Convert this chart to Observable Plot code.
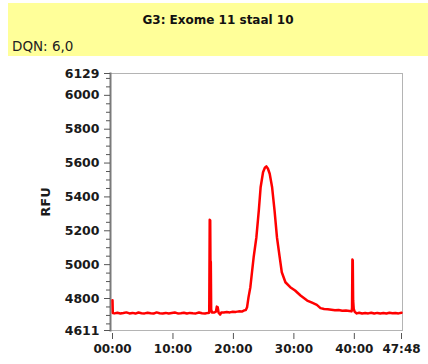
<!DOCTYPE html>
<html><head><meta charset="utf-8">
<script src="https://cdn.jsdelivr.net/npm/d3@7"></script>
<script src="https://cdn.jsdelivr.net/npm/@observablehq/plot@0.6"></script>
<style>
body{margin:0;background:#fff;font-family:"DejaVu Sans",sans-serif;width:428px;height:364px;overflow:hidden;position:relative;}
#hdr{position:absolute;left:8px;top:3px;width:420px;height:53px;background:#ffff99;}
#title{position:absolute;left:0;width:100%;top:10px;text-align:center;font-weight:bold;font-size:12px;color:#111;}
#sub{position:absolute;left:4px;top:35px;font-size:13.5px;color:#222;}
#chart{position:absolute;left:0;top:57px;}
</style>
</head><body>
<div id="hdr"><div id="title">G3: Exome 11 staal 10</div><div id="sub">DQN: 6,0</div></div>
<div id="chart"></div>
<script>
const time = [0,0.05,0.3,0.8,1.3,1.8,2.3,2.8,3.3,3.8,4.3,4.8,5.3,5.8,6.3,6.8,7.3,7.8,8.3,8.8,9.3,9.8,10.3,10.8,11.3,11.8,12.3,12.8,13.3,13.8,14.3,14.8,15.3,15.8,
16.0,16.08,16.16,16.2,16.26,16.32,16.45,16.8,17.1,17.25,17.4,17.55,17.8,18.0,18.4,18.9,19.4,19.9,20.4,20.9,21.4,21.8,22.05,
22.26,22.5,22.8,23.1,23.35,23.8,24.2,24.5,24.9,25.2,25.45,25.7,26.0,26.4,26.8,27.2,27.65,28.0,28.6,29.4,30.2,31.1,32.2,33.0,33.8,
34.4,35.0,35.6,36.2,36.8,37.4,38.0,38.6,39.2,39.55,39.62,39.68,39.74,39.8,39.9,40.05,40.4,40.8,41.3,41.8,42.3,42.8,43.3,43.8,44.3,44.8,45.3,45.8,46.3,46.8,47.3,47.8];
const rfu = [4790,4714,4712,4716,4711,4714,4718,4712,4715,4711,4717,4713,4712,4716,4713,4711,4718,4713,4712,4715,4711,4714,4717,4712,4713,4716,4711,4715,4713,4712,4717,4713,4711,4715,
4716,5265,5262,5025,5015,4735,4718,4717,4722,4752,4748,4716,4705,4718,4717,4720,4718,4722,4721,4724,4723,4730,4732,
4749,4808,4867,4965,5044,5162,5320,5457,5546,5572,5580,5568,5537,5457,5320,5162,5044,4955,4896,4867,4847,4818,4788,4775,4762,
4743,4738,4736,4733,4730,4732,4728,4729,4726,4724,4745,5030,5026,4790,4738,4722,4712,4716,4711,4714,4712,4716,4711,4715,4712,4714,4711,4716,4713,4715,4712,4716];
const yTicks = [4611,4800,5000,5200,5400,5600,5800,6000,6129];
const yMinor = [4650,4700,4750,4850,4900,4950,5050,5100,5150,5250,5300,5350,5450,5500,5550,5650,5700,5750,5850,5900,5950,6050,6100];
const xTicks = [0,10,20,30,40,47.8];
const xLabels = ["00:00","10:00","20:00","30:00","40:00","47:48"];

const data = time.map((t,i)=>({t, v: rfu[i]}));
const xLab = new Map(xTicks.map((t,i)=>[t,xLabels[i]]));

const chart = Plot.plot({
  width:428, height:307,
  marginTop:16, marginBottom:34, marginLeft:110, marginRight:26,
  x:{domain:[0,47.8], insetLeft:2, insetRight:1},
  y:{domain:[4611,6129]},
  style:{fontFamily:"DejaVu Sans", fontSize:"12px", fontWeight:"bold", color:"#1a1a1a", background:"transparent", overflow:"visible"},
  marks:[
    Plot.frame({stroke:"#b4b4b4"}),
    Plot.frame({anchor:"left", stroke:"#7a7a7a", strokeWidth:2}),
    Plot.axisY({ticks:yMinor, tickSize:4, text:null, stroke:"#555", label:null}),
    Plot.axisY({ticks:yTicks, tickSize:6, tickPadding:5, tickFormat:d=>String(d), stroke:"#555", fill:"#1a1a1a", fontSize:12.5, label:null}),
    Plot.axisY({ticks:[], tickSize:0, label:"RFU", labelAnchor:"center", labelOffset:70, labelArrow:"none", fontSize:13, fill:"#1a1a1a"}),
    Plot.axisX({ticks:xTicks, tickFormat:d=>xLab.get(d), tickSize:6, dy:3, tickPadding:5, stroke:"#555", fill:"#1a1a1a", label:null}),
    Plot.line(data, {x:"t", y:"v", stroke:"#ff0000", strokeWidth:2.5})
  ]
});
document.getElementById("chart").appendChild(chart);
</script>
</body></html>
